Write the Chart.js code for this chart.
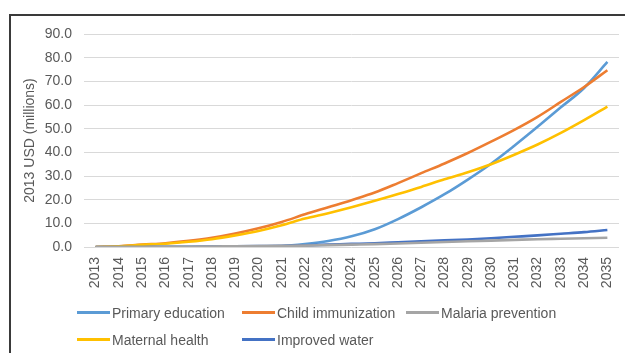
<!DOCTYPE html>
<html>
<head>
<meta charset="utf-8">
<script src="https://cdn.jsdelivr.net/npm/chart.js@4.4.1/dist/chart.umd.min.js"></script>
<style>
  html, body { margin: 0; padding: 0; background: #ffffff; }
  body { width: 625px; height: 353px; position: relative; overflow: hidden;
         font-family: "Liberation Sans", Arial, sans-serif; }
  #frame { position: absolute; left: 9px; top: 14px; width: 640px; height: 400px;
           border-top: 2px solid #3a3a3a; border-left: 2px solid #3a3a3a; box-sizing: border-box; }
  #wrap { position: absolute; left: 0; top: 0; width: 625px; height: 353px; }
  .lg { position: absolute; height: 16px; line-height: 16px; font-size: 14px; color: #595959; white-space: nowrap; }
  .lg span.sw { position: absolute; left: 0; top: 6px; width: 33px; height: 3px; }
  .lg span.tx { position: absolute; left: 35px; top: 0; }
</style>
</head>
<body>
<div id="frame"></div>
<div id="wrap"><canvas id="c" width="625" height="353"></canvas></div>
<div id="legend"></div>
<script>
// Years on the horizontal axis
const years = ['2013','2014','2015','2016','2017','2018','2019','2020','2021','2022','2023','2024',
               '2025','2026','2027','2028','2029','2030','2031','2032','2033','2034','2035'];

// Cost per intervention, 2013 USD (millions)
const primaryEducation  = [0,0,0,0,0,0,0,0.1,0.3,1.2,2.5,4.5,7.5,11.8,16.8,22.3,28.5,35.2,42.8,50.8,59.0,67.2,78.2];
const childImmunization = [0,0.3,1.0,1.6,2.6,3.9,5.7,7.9,10.6,13.8,16.8,19.8,23.0,27.0,31.2,35.3,39.7,44.5,49.5,55.0,61.3,67.6,74.7];
const malariaPrevention = [0,0,0,0.1,0.1,0.2,0.3,0.4,0.5,0.6,0.8,1.0,1.2,1.5,1.8,2.1,2.4,2.7,3.0,3.3,3.5,3.7,3.9];
const maternalHealth    = [0,0.3,0.9,1.4,2.2,3.3,4.9,6.8,9.2,12.0,14.3,16.8,19.5,22.4,25.4,28.6,31.6,35.0,39.0,43.3,48.2,53.6,59.3];
const improvedWater     = [0,0,0,0.1,0.1,0.2,0.3,0.4,0.5,0.7,1.0,1.3,1.6,2.0,2.4,2.8,3.2,3.7,4.3,4.9,5.6,6.3,7.2];

// Value axis ticks
const yTicks = [0,10,20,30,40,50,60,70,80,90];

const seriesNames  = ['Primary education','Child immunization','Malaria prevention','Maternal health','Improved water'];
const seriesData   = [primaryEducation, childImmunization, malariaPrevention, maternalHealth, improvedWater];
const seriesColors = ['#5B9BD5','#ED7D31','#A5A5A5','#FFC000','#4472C4'];

const textColor = '#595959';
const fontFamily = '"Liberation Sans", Arial, sans-serif';

// Draw order: grey first so the blue lines sit on top of it
const drawOrder = [2, 4, 3, 1, 0];

const datasets = seriesNames.map((name, i) => ({
  label: name,
  data: seriesData[i],
  borderColor: seriesColors[i],
  backgroundColor: seriesColors[i],
  borderWidth: 2.6,
  pointRadius: 0,
  pointHoverRadius: 0,
  fill: false,
  cubicInterpolationMode: 'monotone',
  order: drawOrder.indexOf(i)
}));

new Chart(document.getElementById('c'), {
  type: 'line',
  data: { labels: years, datasets },
  options: {
    responsive: false,
    animation: false,
    events: [],
    layout: { padding: { left: 18, right: 6, top: 34, bottom: 56 } },
    plugins: {
      legend: { display: false },
      tooltip: { enabled: false }
    },
    scales: {
      x: {
        type: 'category',
        offset: true,
        grid: { display: false, drawTicks: false },
        border: { display: false },
        ticks: {
          color: textColor,
          font: { family: fontFamily, size: 14 },
          minRotation: 90,
          maxRotation: 90,
          autoSkip: false,
          padding: 10
        },
        afterFit(scale) {
          scale.height = 50;
          scale.paddingLeft = 0;
          scale.paddingRight = 0;
        }
      },
      y: {
        min: 0,
        max: 90,
        afterBuildTicks(scale) { scale.ticks = yTicks.map(v => ({ value: v })); },
        grid: { color: '#D9D9D9', lineWidth: 1, drawTicks: false },
        border: { display: false },
        ticks: {
          color: textColor,
          font: { family: fontFamily, size: 14 },
          padding: 12,
          callback: v => Number(v).toFixed(1)
        },
        title: {
          display: true,
          text: '2013 USD (millions)',
          color: textColor,
          font: { family: fontFamily, size: 14 },
          padding: { top: 4, bottom: 4 }
        },
        afterFit(scale) {
          scale.width = 66;
          scale.paddingTop = 0;
          scale.paddingBottom = 0;
        }
      }
    }
  }
});

// Legend laid out in two rows like the original figure
const legendPos = [
  { x: 77,  y: 305 },
  { x: 242, y: 305 },
  { x: 406, y: 305 },
  { x: 77,  y: 332 },
  { x: 242, y: 332 }
];
const legendEl = document.getElementById('legend');
seriesNames.forEach((name, i) => {
  const item = document.createElement('div');
  item.className = 'lg';
  item.style.left = legendPos[i].x + 'px';
  item.style.top = legendPos[i].y + 'px';
  const sw = document.createElement('span');
  sw.className = 'sw';
  sw.style.background = seriesColors[i];
  const tx = document.createElement('span');
  tx.className = 'tx';
  tx.textContent = name;
  item.appendChild(sw);
  item.appendChild(tx);
  legendEl.appendChild(item);
});
</script>
</body>
</html>
